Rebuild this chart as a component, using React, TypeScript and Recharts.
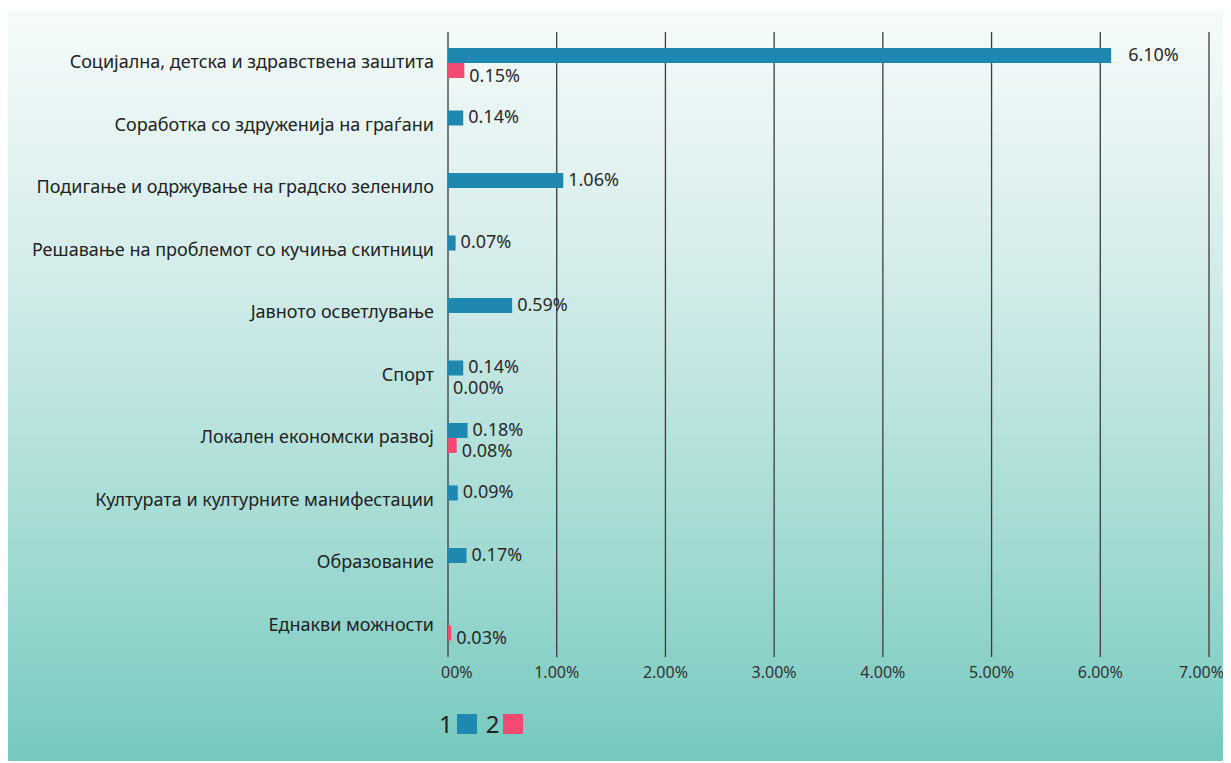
import { BarChart, Bar, XAxis, YAxis, CartesianGrid, LabelList } from 'recharts'

const categories = [
  'Социјална, детска и здравствена заштита',
  'Соработка со здруженија на граѓани',
  'Подигање и одржување на градско зеленило',
  'Решавање на проблемот со кучиња скитници',
  'Јавното осветлување',
  'Спорт',
  'Локален економски развој',
  'Културата и културните манифестации',
  'Образование',
  'Еднакви можности',
]

// share in percent, null = no bar
const series1 = [6.1, 0.14, 1.06, 0.07, 0.59, 0.14, 0.18, 0.09, 0.17, null]
const series2 = [0.15, null, null, null, null, 0.0, 0.08, null, null, 0.03]

const xTicks = [0, 1, 2, 3, 4, 5, 6, 7]

const BLUE = '#1f88b0'
const PINK = '#f24a72'
const FONT = '"Noto Sans", "Open Sans", sans-serif'

const data = categories.map((name, i) => ({ name, s1: series1[i], s2: series2[i] }))

const fmt = (v: number) => `${v.toFixed(2)}%`

const XTick = (props: any) => {
  const { x, y, payload } = props
  const v = payload.value as number
  // first label is cut in the original, last one is pulled in to fit
  let tx = x
  let anchor: 'start' | 'middle' | 'end' = 'middle'
  let label = fmt(v)
  if (v === xTicks[0]) {
    tx = x - 7
    anchor = 'start'
    label = '00%'
  } else if (v === xTicks[xTicks.length - 1]) {
    tx = x + 15
    anchor = 'end'
  }
  return (
    <text x={tx} y={y} dy={13} textAnchor={anchor} fill="#333" fontSize={16} fontFamily={FONT}>
      {label}
    </text>
  )
}

const YTick = (props: any) => {
  const { x, y, payload } = props
  return (
    <text x={x} y={y - 2} dominantBaseline="central" textAnchor="end" fill="#222" fontSize={18} fontFamily={FONT}>
      {payload.value}
    </text>
  )
}

const makeLabel = (shift: number) => (props: any) => {
  const { x, y, width, height, value } = props
  if (value === null || value === undefined) return null
  const gap = value > 5 ? 17 : 5
  return (
    <text
      x={x + (width || 0) + gap}
      y={y + height / 2 + shift}
      dominantBaseline="central"
      fill="#2a2a2a"
      fontSize={18}
      fontFamily={FONT}
    >
      {fmt(value)}
    </text>
  )
}

const BlueLabel = makeLabel(-2)
const PinkLabel = makeLabel(4)

export default function App() {
  return (
    <div
      style={{
        position: 'relative',
        left: -2,
        top: 2,
        width: 1222,
        height: 753,
        background: 'linear-gradient(to bottom, #f6fbfb 0%, #d3ecea 35%, #a4dbd4 70%, #75c9bf 100%)',
        fontFamily: FONT,
      }}
    >
      <BarChart
        width={1222}
        height={677}
        data={data}
        layout="vertical"
        barSize={15}
        barGap={0}
        margin={{ top: 22, right: 19, bottom: 0, left: 0 }}
      >
        <CartesianGrid horizontal={false} stroke="#3c3c3c" strokeWidth={1.3} />
        <XAxis
          type="number"
          domain={[0, 7]}
          ticks={xTicks}
          axisLine={false}
          tickLine={false}
          height={30}
          tick={<XTick />}
        />
        <YAxis
          type="category"
          dataKey="name"
          width={442}
          axisLine={false}
          tickLine={false}
          tickMargin={8}
          tick={<YTick />}
        />
        <Bar dataKey="s1" fill={BLUE} isAnimationActive={false}>
          <LabelList dataKey="s1" content={<BlueLabel />} />
        </Bar>
        <Bar
          dataKey="s2"
          fill={PINK}
          isAnimationActive={false}
          minPointSize={(v: any) => (v === 0 ? 0.01 : 0)}
        >
          <LabelList dataKey="s2" content={<PinkLabel />} />
        </Bar>
      </BarChart>
      <div
        style={{
          position: 'absolute',
          left: 433,
          top: 697,
          display: 'flex',
          alignItems: 'center',
          fontSize: 24,
          color: '#222',
        }}
      >
        <span>1</span>
        <span style={{ width: 20, height: 20, background: BLUE, marginLeft: 4, marginRight: 9 }} />
        <span>2</span>
        <span style={{ width: 20, height: 20, background: PINK, marginLeft: 4 }} />
      </div>
    </div>
  )
}
